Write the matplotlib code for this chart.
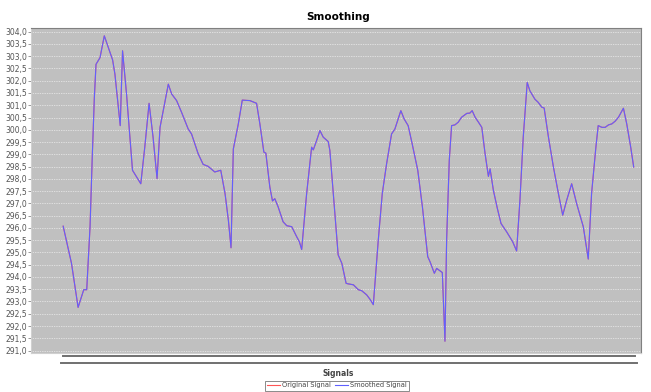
"""
smoothing chart: original vs smoothed signal (values read off the reference)
"""

import matplotlib
matplotlib.use('Agg')
import matplotlib.pyplot as plt
from matplotlib.lines import Line2D
from matplotlib.ticker import MultipleLocator, FuncFormatter

# sample index and signal value at each visible vertex
sample = [0, 2.5, 4.5, 6.2, 7.1, 8.1, 8.8, 9.4, 9.9, 11.1, 12.4, 14.9, 15.6, 17.2, 17.9, 19.1,
          20.9, 23.4, 24.6, 25.9, 27.1, 28.3, 29.2, 31.7, 32.7, 34.2, 35.7, 37.7, 38.7, 40.7,
          42.2, 43.7, 45.7, 47.5, 48.8, 49.8, 50.6, 51.3, 52.8, 54.0, 56.3, 58.3, 59.3, 60.5,
          61.1, 62.3, 63.1, 63.8, 64.8, 66.3, 67.4, 68.9, 70.4, 71.2, 71.9, 73.4, 74.9, 75.4,
          76.4, 77.4, 78.4, 79.9, 80.4, 81.9, 82.9, 84.0, 85.3, 85.9, 87.5, 89.0, 90.0, 91.5,
          92.5, 93.5, 95.0, 96.2, 97.5, 99.0, 100.0, 101.8, 102.8, 104.0, 105.1, 106.9, 108.3,
          109.9, 110.6, 111.9, 112.6, 114.3, 115.1, 115.6, 116.4, 117.1, 118.1, 119.1, 120.1,
          121.7, 122.6, 123.3, 124.2, 125.2, 126.2, 127.2, 128.2, 128.7, 129.7, 130.9, 132.0,
          133.7, 135.5, 136.7, 137.7, 138.7, 139.9, 140.7, 142.2, 143.2, 144.3, 145.0, 146.3,
          147.8, 149.3, 150.6, 151.8, 153.3, 154.8, 156.8, 158.3, 159.3, 160.6, 161.3, 162.4,
          163.4, 164.4, 165.4, 166.4, 167.4, 168.9, 169.9, 171.1, 172.0]
original = [296.07, 294.56, 292.76, 293.48, 293.48, 296.05, 299.02, 301.32, 302.67, 302.94,
            303.83, 302.85, 302.27, 300.17, 303.22, 301.46, 298.35, 297.80, 299.29, 301.08,
            299.70, 298.01, 300.10, 301.86, 301.46, 301.19, 300.71, 300.03, 299.83, 299.02,
            298.59, 298.51, 298.28, 298.35, 297.40, 296.32, 295.19, 299.22, 300.24, 301.21,
            301.19, 301.08, 300.24, 299.09, 299.05, 297.67, 297.10, 297.19, 296.86, 296.25,
            296.09, 296.05, 295.64, 295.44, 295.12, 297.40, 299.29, 299.18, 299.56, 299.97,
            299.70, 299.52, 299.16, 296.59, 294.90, 294.56, 293.74, 293.72, 293.68, 293.48,
            293.44, 293.27, 293.09, 292.87, 295.51, 297.40, 298.61, 299.83, 300.03, 300.78,
            300.44, 300.17, 299.50, 298.35, 296.86, 294.83, 294.62, 294.15, 294.35, 294.18,
            291.38, 295.51, 298.75, 300.17, 300.20, 300.31, 300.51, 300.67, 300.68, 300.78,
            300.51, 300.31, 300.10, 299.02, 298.10, 298.41, 297.53, 296.79, 296.18, 295.84,
            295.44, 295.06, 297.13, 299.70, 301.93, 301.59, 301.25, 301.12, 300.92, 300.89,
            299.70, 298.48, 297.40, 296.52, 297.13, 297.80, 296.99, 296.05, 294.73, 297.40,
            299.29, 300.17, 300.10, 300.10, 300.20, 300.24, 300.35, 300.51, 300.88, 300.24,
            299.29, 298.48]
smoothed = list(original)  # the two series overlap everywhere in the picture

fig = plt.figure(figsize=(6.51, 3.92), dpi=100)
ax = fig.add_axes([31 / 651, 1 - 353 / 392, 610 / 651, 325 / 392])
ax.set_facecolor('#c0c0c0')

ax.plot(sample, original, color='#ff5555', lw=0.8, label='Original Signal')
ax.plot(sample, smoothed, color='#6060ff', lw=0.8, label='Smoothed Signal')

ax.set_xlim(-9.7, 174.2)
ax.set_ylim(290.9, 304.15)
ax.yaxis.set_major_locator(MultipleLocator(0.5))
ax.yaxis.set_major_formatter(FuncFormatter(lambda v, p: f'{v:.1f}'.replace('.', ',')))
ax.tick_params(axis='y', labelsize=5.5, labelcolor='#555555', color='#888888', length=2, width=0.6, pad=1)
ax.set_xticks([])
ax.grid(axis='y', color='white', ls=(0, (1, 1.5)), lw=0.5)
ax.set_axisbelow(True)
for side in ['top', 'right']:
    ax.spines[side].set_color('#808080')
    ax.spines[side].set_linewidth(0.8)
for side in ['left', 'bottom']:
    ax.spines[side].set_color('#d0d0d0')
    ax.spines[side].set_linewidth(0.8)

# the two rule lines below the plot
fig.add_artist(Line2D([63 / 651, 635 / 651], [1 - 355.5 / 392] * 2, color='#707070', lw=1.4))
fig.add_artist(Line2D([61 / 651, 637 / 651], [1 - 362.5 / 392] * 2, color='#707070', lw=1.4))

fig.text(338 / 651, 1 - 17 / 392, 'Smoothing', ha='center', va='center', fontsize=7.5, fontweight='bold')
fig.text(338 / 651, 1 - 373 / 392, 'Signals', ha='center', va='center', fontsize=5.5,
         fontweight='bold', color='#444444')

leg = fig.legend(loc='center', bbox_to_anchor=(337 / 651, 1 - 385.5 / 392), ncol=2, fontsize=4.8,
                 frameon=True, fancybox=False, handlelength=2.0, handletextpad=0.3,
                 columnspacing=0.6, borderpad=0.3, borderaxespad=0)
leg.get_frame().set_edgecolor('#555555')
leg.get_frame().set_linewidth(0.6)
for t in leg.get_texts():
    t.set_color('#444444')

fig.savefig('out.png', dpi=100)
